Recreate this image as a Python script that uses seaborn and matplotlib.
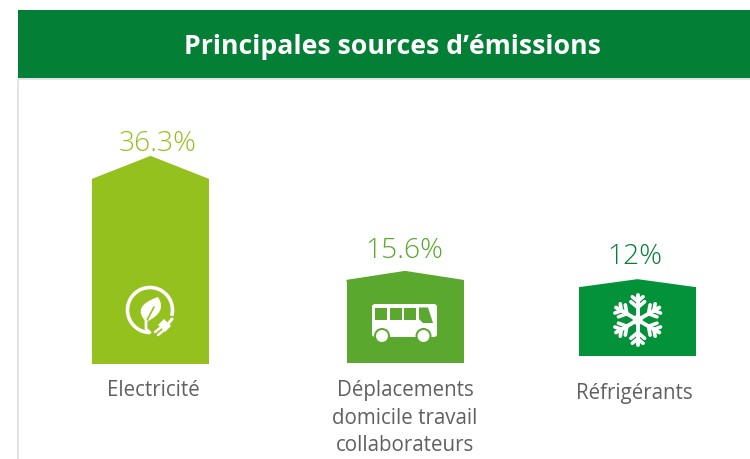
import numpy as np
import seaborn as sns
import matplotlib
matplotlib.use('Agg')
import matplotlib.pyplot as plt
from matplotlib.patches import Rectangle, Circle, Arc, FancyBboxPatch, Polygon, PathPatch
from matplotlib.path import Path

# data
categories = ['Electricité', 'Déplacements\ndomicile travail\ncollaborateurs', 'Réfrigérants']
value_labels = ['36.3%', '15.6%', '12%']
drawn_values = [36.3, 16.3, 13.5]
bar_colors = ['#95C11F', '#5AA82D', '#03923A']
label_colors = ['#95C11F', '#5AA82D', '#038035']
title = 'Principales sources d’émissions'

# layout, in pixels
W, H = 750, 459
PX_PER_UNIT = 5.1
BASE_Y = 364
centers = [150.5, 405, 637.5]
base_shift = [0, 1, 8]
roof_height = [23, 9, 8]
BAR_W = 117

sns.set_theme(style='white')
plt.rcParams['font.family'] = ['Open Sans', 'DejaVu Sans']

fig = plt.figure(figsize=(W / 100, H / 100), dpi=100)
ax = fig.add_axes([0, 0, 1, 1])

sns.barplot(x=centers, y=drawn_values, hue=categories, palette=bar_colors, native_scale=True,
            dodge=False, legend=False, width=BAR_W / (centers[2] - centers[1]), saturation=1, ax=ax)
ax.set_xlim(0, W)
ax.set_ylim((BASE_Y - H) / PX_PER_UNIT, BASE_Y / PX_PER_UNIT)
ax.axis('off')

# overlay in pixel coordinates for the frame and the icons
ov = fig.add_axes([0, 0, 1, 1], facecolor='none')
ov.set_xlim(0, W)
ov.set_ylim(H, 0)
ov.axis('off')

# header and panel edge
ov.add_patch(Rectangle((18, 10), W - 18, 68, color='#038035', lw=0))
ov.add_patch(Rectangle((18, 78), W - 18, 2, color='#E4E4E4', lw=0))
ov.add_patch(Rectangle((17, 78), 2, H - 78, color='#E4E4E4', lw=0))
ov.text(392.5, 47, title, color='white', fontsize=19.2, fontweight='bold', ha='center', va='center')

# shift bars to their baseline, add the roofs
bars = sorted(ax.patches, key=lambda p: p.get_x())
for bar, shift, roof, c in zip(bars, base_shift, roof_height, bar_colors):
    bar.set_linewidth(0)
    bar.set_y(shift / PX_PER_UNIT)
    x0, w = bar.get_x(), bar.get_width()
    top = bar.get_height() + shift / PX_PER_UNIT
    low = top - 2 / PX_PER_UNIT
    ax.fill([x0, x0, x0 + w / 2, x0 + w, x0 + w], [low, top, top + roof / PX_PER_UNIT, top, low],
            color=c, lw=0)

# value and category labels
value_x = [157.5, 404, 634.5]
value_y = [144, 251, 257]
for x, txt, y, col in zip(value_x, value_labels, value_y, label_colors):
    ov.text(x, y, txt, color=col, fontsize=20.3, fontweight='light', ha='center', va='center')
cat_y = [390.5, 418, 394]
for x, txt, y in zip([153.5, 405, 634.5], categories, cat_y):
    ov.text(x, y, txt, color='#606060', fontsize=14.8, ha='center', va='center', linespacing=1.42)

# plug and leaf icon
ov.add_patch(Arc((150, 310), 45, 45, theta1=90, theta2=375, color='white', lw=2.6))
leaf = Path([(146, 322), (131, 306), (158, 297), (168, 312), (146, 322)],
            [Path.MOVETO, Path.CURVE3, Path.CURVE3, Path.CURVE3, Path.CURVE3])
ov.add_patch(PathPatch(leaf, fc='white', ec='none'))
ov.plot([146, 154], [322, 307], color='#95C11F', lw=1.2)
ov.plot([146, 146, 150], [321, 329, 332.5], color='white', lw=2, solid_capstyle='round')
ov.add_patch(Polygon([(158, 325), (164, 319), (171, 326), (165, 332)], fc='white', ec='none'))
ov.plot([160, 155], [328, 332], color='white', lw=1.8)
ov.plot([163, 158], [331, 335], color='white', lw=1.8)
ov.plot([168, 172], [324, 319], color='white', lw=2.2)

# bus icon
g = bar_colors[1]
ov.add_patch(FancyBboxPatch((372, 304), 65, 33, boxstyle='round,pad=0,rounding_size=3', fc='white', ec='none'))
for wx in [375, 389.5, 404]:
    ov.add_patch(Rectangle((wx, 307.5), 12, 12, fc=g, ec='none'))
ov.add_patch(Polygon([(419, 307.5), (428, 307.5), (433, 323), (423, 323), (419, 319)], fc=g, ec='none'))
for cx in [382, 423.5]:
    ov.add_patch(Circle((cx, 336), 8, fc=g, ec='none'))
    ov.add_patch(Circle((cx, 336), 6, fc='white', ec='none'))

# snowflake icon
cx, cy, r = 637.7, 320, 25
for ang in np.deg2rad([90, 30, -30, -90, 150, 210]):
    d = np.array([np.cos(ang), -np.sin(ang)])
    ov.plot([cx, cx + r * d[0]], [cy, cy + r * d[1]], color='white', lw=2.8, solid_capstyle='round')
    for frac, blen in [(0.5, 9), (0.75, 7)]:
        for sign in (1, -1):
            a2 = ang + sign * np.deg2rad(50)
            d2 = np.array([np.cos(a2), -np.sin(a2)])
            p = np.array([cx, cy]) + d * r * frac
            ov.plot([p[0], p[0] + blen * d2[0]], [p[1], p[1] + blen * d2[1]], color='white', lw=2.6,
                    solid_capstyle='round')
ov.add_patch(Circle((cx, cy), 5, fc='white', ec='none'))

fig.savefig('out.png', dpi=100)
